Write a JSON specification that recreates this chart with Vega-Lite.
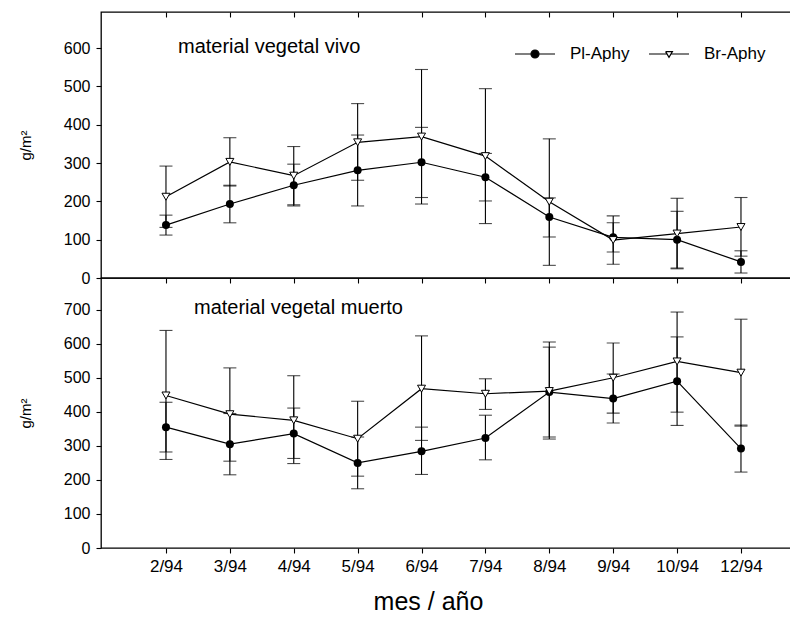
{
  "$schema": "https://vega.github.io/schema/vega-lite/v6.json",
  "padding": {"left": 17, "top": 10, "right": 0, "bottom": 5},
  "background": "white",
  "config": {
    "font": "Liberation Sans",
    "view": {"stroke": "black", "strokeWidth": 1.3},
    "axis": {"domain": false, "tickColor": "black", "tickWidth": 1.1, "labelColor": "black", "titleColor": "black", "grid": false, "titleFontWeight": "normal"},
    "title": {"color": "black", "fontWeight": "normal"}
  },
  "datasets": {
    "vivo": [
      {"mes": "2/94", "serie": "Pl-Aphy", "v": 138, "lo": 112, "hi": 164},
      {"mes": "3/94", "serie": "Pl-Aphy", "v": 193, "lo": 144, "hi": 242},
      {"mes": "4/94", "serie": "Pl-Aphy", "v": 242, "lo": 188, "hi": 297},
      {"mes": "5/94", "serie": "Pl-Aphy", "v": 281, "lo": 188, "hi": 373},
      {"mes": "6/94", "serie": "Pl-Aphy", "v": 302, "lo": 210, "hi": 393},
      {"mes": "7/94", "serie": "Pl-Aphy", "v": 263, "lo": 201, "hi": 325},
      {"mes": "8/94", "serie": "Pl-Aphy", "v": 159, "lo": 107, "hi": 209},
      {"mes": "9/94", "serie": "Pl-Aphy", "v": 106, "lo": 68, "hi": 144},
      {"mes": "10/94", "serie": "Pl-Aphy", "v": 100, "lo": 26, "hi": 174},
      {"mes": "12/94", "serie": "Pl-Aphy", "v": 42, "lo": 13, "hi": 71},
      {"mes": "2/94", "serie": "Br-Aphy", "v": 212, "lo": 132, "hi": 292},
      {"mes": "3/94", "serie": "Br-Aphy", "v": 303, "lo": 240, "hi": 366},
      {"mes": "4/94", "serie": "Br-Aphy", "v": 267, "lo": 191, "hi": 343},
      {"mes": "5/94", "serie": "Br-Aphy", "v": 354, "lo": 255, "hi": 455},
      {"mes": "6/94", "serie": "Br-Aphy", "v": 369, "lo": 193, "hi": 544},
      {"mes": "7/94", "serie": "Br-Aphy", "v": 318, "lo": 142, "hi": 494},
      {"mes": "8/94", "serie": "Br-Aphy", "v": 199, "lo": 33, "hi": 363},
      {"mes": "9/94", "serie": "Br-Aphy", "v": 99, "lo": 36, "hi": 162},
      {"mes": "10/94", "serie": "Br-Aphy", "v": 116, "lo": 24, "hi": 208},
      {"mes": "12/94", "serie": "Br-Aphy", "v": 133, "lo": 57, "hi": 210}
    ],
    "muerto": [
      {"mes": "2/94", "serie": "Pl-Aphy", "v": 355, "lo": 282, "hi": 428},
      {"mes": "3/94", "serie": "Pl-Aphy", "v": 305, "lo": 215, "hi": 395},
      {"mes": "4/94", "serie": "Pl-Aphy", "v": 336, "lo": 263, "hi": 411},
      {"mes": "5/94", "serie": "Pl-Aphy", "v": 250, "lo": 174, "hi": 326},
      {"mes": "6/94", "serie": "Pl-Aphy", "v": 284, "lo": 216, "hi": 355},
      {"mes": "7/94", "serie": "Pl-Aphy", "v": 323, "lo": 259, "hi": 390},
      {"mes": "8/94", "serie": "Pl-Aphy", "v": 458, "lo": 326, "hi": 590},
      {"mes": "9/94", "serie": "Pl-Aphy", "v": 439, "lo": 367, "hi": 511},
      {"mes": "10/94", "serie": "Pl-Aphy", "v": 490, "lo": 360, "hi": 620},
      {"mes": "12/94", "serie": "Pl-Aphy", "v": 292, "lo": 223, "hi": 361},
      {"mes": "2/94", "serie": "Br-Aphy", "v": 448, "lo": 260, "hi": 639},
      {"mes": "3/94", "serie": "Br-Aphy", "v": 393, "lo": 255, "hi": 529},
      {"mes": "4/94", "serie": "Br-Aphy", "v": 375, "lo": 248, "hi": 506},
      {"mes": "5/94", "serie": "Br-Aphy", "v": 321, "lo": 211, "hi": 431},
      {"mes": "6/94", "serie": "Br-Aphy", "v": 468, "lo": 316, "hi": 623},
      {"mes": "7/94", "serie": "Br-Aphy", "v": 453, "lo": 407, "hi": 497},
      {"mes": "8/94", "serie": "Br-Aphy", "v": 461, "lo": 320, "hi": 605},
      {"mes": "9/94", "serie": "Br-Aphy", "v": 500, "lo": 396, "hi": 602},
      {"mes": "10/94", "serie": "Br-Aphy", "v": 548, "lo": 399, "hi": 693},
      {"mes": "12/94", "serie": "Br-Aphy", "v": 515, "lo": 358, "hi": 672}
    ]
  },
  "spacing": 0,
  "bounds": "flush",
  "vconcat": [
    {
      "width": 690,
      "height": 266,
      "data": {"name": "vivo"},
      "title": {"text": "material vegetal vivo", "anchor": "start", "frame": "group", "fontSize": 20, "fontWeight": "normal", "offset": 0, "dx": 77, "dy": 62, "baseline": "alphabetic", "color": "black"},
      "resolve": {"axis": {"x": "independent"}},
      "layer": [
        {
          "mark": {"type": "line", "color": "black", "strokeWidth": 1.2},
          "encoding": {
            "x": {"field": "mes", "type": "ordinal", "sort": null, "scale": {"type": "point", "domain": ["2/94","3/94","4/94","5/94","6/94","7/94","8/94","9/94","10/94","12/94"], "padding": 0.9, "align": 0.565}, "axis": {"orient": "top", "labels": false, "title": null, "tickSize": -5}},
            "y": {"field": "v", "type": "quantitative", "scale": {"domain": [0, 694], "nice": false, "zero": false}, "axis": {"values": [0,100,200,300,400,500,600], "title": "g/m²", "titleFontSize": 15, "titlePadding": 30, "labelFontSize": 16, "labelPadding": 6, "tickSize": 5}},
            "detail": {"field": "serie"}
          }
        },
        {
          "mark": {"type": "rule", "color": "black", "strokeWidth": 1.1},
          "encoding": {
            "x": {"field": "mes", "type": "ordinal", "sort": null, "axis": {"orient": "bottom", "labels": false, "title": null, "tickSize": 5}},
            "y": {"field": "lo", "type": "quantitative", "axis": {"values": [0,100,200,300,400,500,600], "title": "g/m²", "titleFontSize": 15, "titlePadding": 30, "labelFontSize": 16, "labelPadding": 6, "tickSize": 5}},
            "y2": {"field": "hi"}
          }
        },
        {
          "mark": {"type": "tick", "color": "black", "size": 13, "thickness": 1.1},
          "encoding": {
            "x": {"field": "mes", "type": "ordinal", "sort": null, "axis": null},
            "y": {"field": "lo", "type": "quantitative", "axis": {"values": [0,100,200,300,400,500,600], "title": "g/m²", "titleFontSize": 15, "titlePadding": 30, "labelFontSize": 16, "labelPadding": 6, "tickSize": 5}}
          }
        },
        {
          "mark": {"type": "tick", "color": "black", "size": 13, "thickness": 1.1},
          "encoding": {
            "x": {"field": "mes", "type": "ordinal", "sort": null, "axis": null},
            "y": {"field": "hi", "type": "quantitative", "axis": {"values": [0,100,200,300,400,500,600], "title": "g/m²", "titleFontSize": 15, "titlePadding": 30, "labelFontSize": 16, "labelPadding": 6, "tickSize": 5}}
          }
        },
        {
          "transform": [{"filter": "datum.serie === 'Pl-Aphy'"}],
          "mark": {"type": "point", "shape": "circle", "filled": true, "color": "black", "size": 64, "opacity": 1},
          "encoding": {
            "x": {"field": "mes", "type": "ordinal", "sort": null, "axis": null},
            "y": {"field": "v", "type": "quantitative", "axis": {"values": [0,100,200,300,400,500,600], "title": "g/m²", "titleFontSize": 15, "titlePadding": 30, "labelFontSize": 16, "labelPadding": 6, "tickSize": 5}}
          }
        },
        {
          "transform": [{"filter": "datum.serie === 'Br-Aphy'"}],
          "mark": {"type": "point", "shape": "triangle-down", "fill": "white", "stroke": "black", "strokeWidth": 1, "size": 64, "opacity": 1},
          "encoding": {
            "x": {"field": "mes", "type": "ordinal", "sort": null, "axis": null},
            "y": {"field": "v", "type": "quantitative", "axis": {"values": [0,100,200,300,400,500,600], "title": "g/m²", "titleFontSize": 15, "titlePadding": 30, "labelFontSize": 16, "labelPadding": 6, "tickSize": 5}}
          }
        },
        {
          "transform": [{"filter": "datum.v < 0"}],
          "mark": {"type": "point", "filled": true, "color": "black", "stroke": "black", "strokeWidth": 1.2, "size": 1600, "opacity": 1},
          "encoding": {
            "x": {"field": "mes", "type": "ordinal", "sort": null, "axis": null},
            "y": {"field": "v", "type": "quantitative", "axis": {"values": [0,100,200,300,400,500,600], "title": "g/m²", "titleFontSize": 15, "titlePadding": 30, "labelFontSize": 16, "labelPadding": 6, "tickSize": 5}},
            "shape": {"field": "serie", "type": "nominal",
              "scale": {"domain": ["Pl-Aphy", "Br-Aphy"], "range": ["M-1,0H-0.2M0.2,0H1M0.2,0A0.2,0.2,0,1,1,-0.2,0A0.2,0.2,0,1,1,0.2,0Z", "M-1,0H-0.1M0.1,0H1M-0.17,-0.12L0.17,-0.12L0,0.17L-0.17,-0.12L0,0.17L0.17,-0.12L-0.17,-0.12"]},
              "legend": {"title": null, "orient": "none", "direction": "horizontal", "legendX": 413, "legendY": 21, "symbolSize": 1600, "symbolStrokeWidth": 1.2, "labelFontSize": 17, "labelColor": "black", "labelOffset": 14, "columnPadding": 16}}
          }
        }
      ]
    },
    {
      "width": 690,
      "height": 270,
      "data": {"name": "muerto"},
      "title": {"text": "material vegetal muerto", "anchor": "start", "frame": "group", "fontSize": 20, "fontWeight": "normal", "offset": 0, "dx": 93, "dy": 56, "baseline": "alphabetic", "color": "black"},
      "layer": [
        {
          "mark": {"type": "line", "color": "black", "strokeWidth": 1.2},
          "encoding": {
            "x": {"field": "mes", "type": "ordinal", "sort": null, "scale": {"type": "point", "domain": ["2/94","3/94","4/94","5/94","6/94","7/94","8/94","9/94","10/94","12/94"], "padding": 0.9, "align": 0.565}, "axis": {"orient": "bottom", "title": "mes / año", "titleFontSize": 25, "titlePadding": 15, "titleX": 327, "labelFontSize": 17, "labelPadding": 5, "tickSize": 5, "labelAngle": 0}},
            "y": {"field": "v", "type": "quantitative", "scale": {"domain": [0, 793], "nice": false, "zero": false}, "axis": {"values": [0,100,200,300,400,500,600,700], "title": "g/m²", "titleFontSize": 15, "titlePadding": 30, "labelFontSize": 16, "labelPadding": 6, "tickSize": 5}},
            "detail": {"field": "serie"}
          }
        },
        {
          "mark": {"type": "rule", "color": "black", "strokeWidth": 1.1},
          "encoding": {
            "x": {"field": "mes", "type": "ordinal", "sort": null},
            "y": {"field": "lo", "type": "quantitative", "axis": {"values": [0,100,200,300,400,500,600,700], "title": "g/m²", "titleFontSize": 15, "titlePadding": 30, "labelFontSize": 16, "labelPadding": 6, "tickSize": 5}},
            "y2": {"field": "hi"}
          }
        },
        {
          "mark": {"type": "tick", "color": "black", "size": 13, "thickness": 1.1},
          "encoding": {
            "x": {"field": "mes", "type": "ordinal", "sort": null},
            "y": {"field": "lo", "type": "quantitative", "axis": {"values": [0,100,200,300,400,500,600,700], "title": "g/m²", "titleFontSize": 15, "titlePadding": 30, "labelFontSize": 16, "labelPadding": 6, "tickSize": 5}}
          }
        },
        {
          "mark": {"type": "tick", "color": "black", "size": 13, "thickness": 1.1},
          "encoding": {
            "x": {"field": "mes", "type": "ordinal", "sort": null},
            "y": {"field": "hi", "type": "quantitative", "axis": {"values": [0,100,200,300,400,500,600,700], "title": "g/m²", "titleFontSize": 15, "titlePadding": 30, "labelFontSize": 16, "labelPadding": 6, "tickSize": 5}}
          }
        },
        {
          "transform": [{"filter": "datum.serie === 'Pl-Aphy'"}],
          "mark": {"type": "point", "shape": "circle", "filled": true, "color": "black", "size": 64, "opacity": 1},
          "encoding": {
            "x": {"field": "mes", "type": "ordinal", "sort": null},
            "y": {"field": "v", "type": "quantitative", "axis": {"values": [0,100,200,300,400,500,600,700], "title": "g/m²", "titleFontSize": 15, "titlePadding": 30, "labelFontSize": 16, "labelPadding": 6, "tickSize": 5}}
          }
        },
        {
          "transform": [{"filter": "datum.serie === 'Br-Aphy'"}],
          "mark": {"type": "point", "shape": "triangle-down", "fill": "white", "stroke": "black", "strokeWidth": 1, "size": 64, "opacity": 1},
          "encoding": {
            "x": {"field": "mes", "type": "ordinal", "sort": null},
            "y": {"field": "v", "type": "quantitative", "axis": {"values": [0,100,200,300,400,500,600,700], "title": "g/m²", "titleFontSize": 15, "titlePadding": 30, "labelFontSize": 16, "labelPadding": 6, "tickSize": 5}}
          }
        }
      ]
    }
  ]
}
